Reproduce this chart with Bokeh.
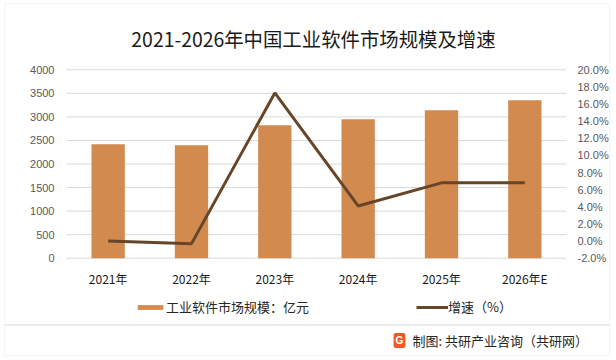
from bokeh.plotting import figure
from bokeh.models import (Range1d, LinearAxis, FixedTicker, NumeralTickFormatter,
                          Label, Legend, LegendItem, BoxAnnotation, ColumnDataSource, Node)
from bokeh.embed import file_html
from bokeh.resources import INLINE

years = ["2021年", "2022年", "2023年", "2024年", "2025年", "2026年E"]
market = [2419, 2398, 2823, 2951, 3142, 3355]
growth = [0.000, -0.003, 0.173, 0.041, 0.068, 0.068]
left_ticks = [0, 500, 1000, 1500, 2000, 2500, 3000, 3500, 4000]
pct_ticks = [-0.02, 0.0, 0.02, 0.04, 0.06, 0.08, 0.10, 0.12, 0.14, 0.16, 0.18, 0.20]

title_text = "2021-2026年中国工业软件市场规模及增速"
bar_name = "工业软件市场规模：亿元"
line_name = "增速（%）"
source_text = "制图: 共研产业咨询（共研网）"

FONT = "Noto Sans CJK SC"
NUMFONT = "Liberation Sans"
BAR = "#D38A4E"
LINE = "#664529"
GRID = "#D9D9D9"

# layout (pixels) of the plotting area inside the 616x360 canvas
W, H = 616, 360
PL, PR, PT, PB = 66, 566, 69.3, 257.7

n = len(years)
xs = list(range(n))
slot = (PR - PL) / n
x_start = -0.5 - PL / slot
x_end = n - 0.5 + (W - PR) / slot

y0, y1 = left_ticks[0], left_ticks[-1]
ppu = (PB - PT) / (y1 - y0)
y_start = y0 - (H - PB) / ppu
y_end = y1 + PT / ppu

g0, g1 = pct_ticks[0], pct_ticks[-1]
gpu = (PB - PT) / (g1 - g0)
g_start = g0 - (H - PB) / gpu
g_end = g1 + PT / gpu

src = ColumnDataSource(dict(x=xs, years=years, market=market, growth=growth))
grid_src = ColumnDataSource(dict(y=left_ticks, x0=[-0.5] * len(left_ticks),
                                 x1=[n - 0.5] * len(left_ticks)))

p = figure(x_range=Range1d(x_start, x_end), y_range=Range1d(y_start, y_end),
           width=W, height=H, output_backend="svg", toolbar_location=None,
           min_border=0, min_border_left=0, min_border_right=0,
           min_border_top=0, min_border_bottom=0)
p.extra_y_ranges = {"pct": Range1d(g_start, g_end)}
p.outline_line_color = None
p.xgrid.visible = False
p.ygrid.visible = False

def style_axis(ax, font, size, color, standoff):
    ax.axis_line_color = None
    ax.major_tick_line_color = None
    ax.minor_tick_line_color = None
    ax.major_tick_out = 0
    ax.major_tick_in = 0
    ax.minor_tick_out = 0
    ax.minor_tick_in = 0
    ax.major_label_text_font = font
    ax.major_label_text_font_size = size
    ax.major_label_text_color = color
    ax.major_label_standoff = standoff

yax = p.yaxis[0]
yax.ticker = FixedTicker(ticks=left_ticks)
yax.fixed_location = -0.5
style_axis(yax, NUMFONT, "11px", "#595959", 12)

xax = p.xaxis[0]
xax.ticker = FixedTicker(ticks=xs)
xax.major_label_overrides = {i: years[i] for i in xs}
xax.fixed_location = 0
style_axis(xax, FONT, "12px", "#1a1a1a", 12)

right = LinearAxis(y_range_name="pct", ticker=FixedTicker(ticks=pct_ticks),
                   formatter=NumeralTickFormatter(format="0.0%"))
right.fixed_location = n - 0.5
style_axis(right, NUMFONT, "11px", "#595959", 11)
p.add_layout(right, "right")

p.segment(x0="x0", x1="x1", y0="y", y1="y", source=grid_src, line_color=GRID, line_width=1)
bars = p.vbar(x="x", top="market", width=0.4, source=src, fill_color=BAR, line_color=None)
ln = p.line(x="x", y="growth", y_range_name="pct", source=src, line_color=LINE, line_width=3)

legend = Legend(items=[LegendItem(label=bar_name, renderers=[bars]),
                       LegendItem(label=line_name, renderers=[ln])],
                orientation="horizontal", location=(134, H - 316),
                glyph_width=32, glyph_height=6, label_height=17,
                label_standoff=0, spacing=107, padding=0, margin=0,
                border_line_color=None, background_fill_alpha=0,
                label_text_font=FONT, label_text_font_size="13px",
                label_text_color="#262626")
p.add_layout(legend, "center")

p.add_layout(Label(x=313, y=H - 38, x_units="screen", y_units="screen", text=title_text,
                   text_align="center", text_baseline="middle", text_font=FONT,
                   text_font_size="19.4px", text_color="#1a1a1a"))

p.add_layout(Label(x=412, y=H - 340, x_units="screen", y_units="screen", text=source_text,
                   text_align="left", text_baseline="middle", text_font=FONT,
                   text_font_size="13px", text_color="#262626"))
p.add_layout(Label(x=399, y=H - 340, x_units="screen", y_units="screen", text="G",
                   text_align="center", text_baseline="middle", text_font=NUMFONT,
                   text_font_style="bold", text_font_size="10px", text_color="white",
                   background_fill_color="#EF5A24", padding=2, border_radius=2))

# outer frame and separator line
p.add_layout(BoxAnnotation(left=Node(target="canvas", symbol="left", offset=4),
                           right=Node(target="canvas", symbol="left", offset=609),
                           top=Node(target="canvas", symbol="top", offset=3),
                           bottom=Node(target="canvas", symbol="top", offset=355),
                           fill_alpha=0, line_color=GRID, line_width=1))
p.add_layout(BoxAnnotation(left=Node(target="canvas", symbol="left", offset=4),
                           right=Node(target="canvas", symbol="left", offset=609),
                           top=Node(target="canvas", symbol="top", offset=324),
                           bottom=Node(target="canvas", symbol="top", offset=325),
                           fill_color=GRID, fill_alpha=1, line_color=None))

open("out.html", "w").write(file_html(p, INLINE))
